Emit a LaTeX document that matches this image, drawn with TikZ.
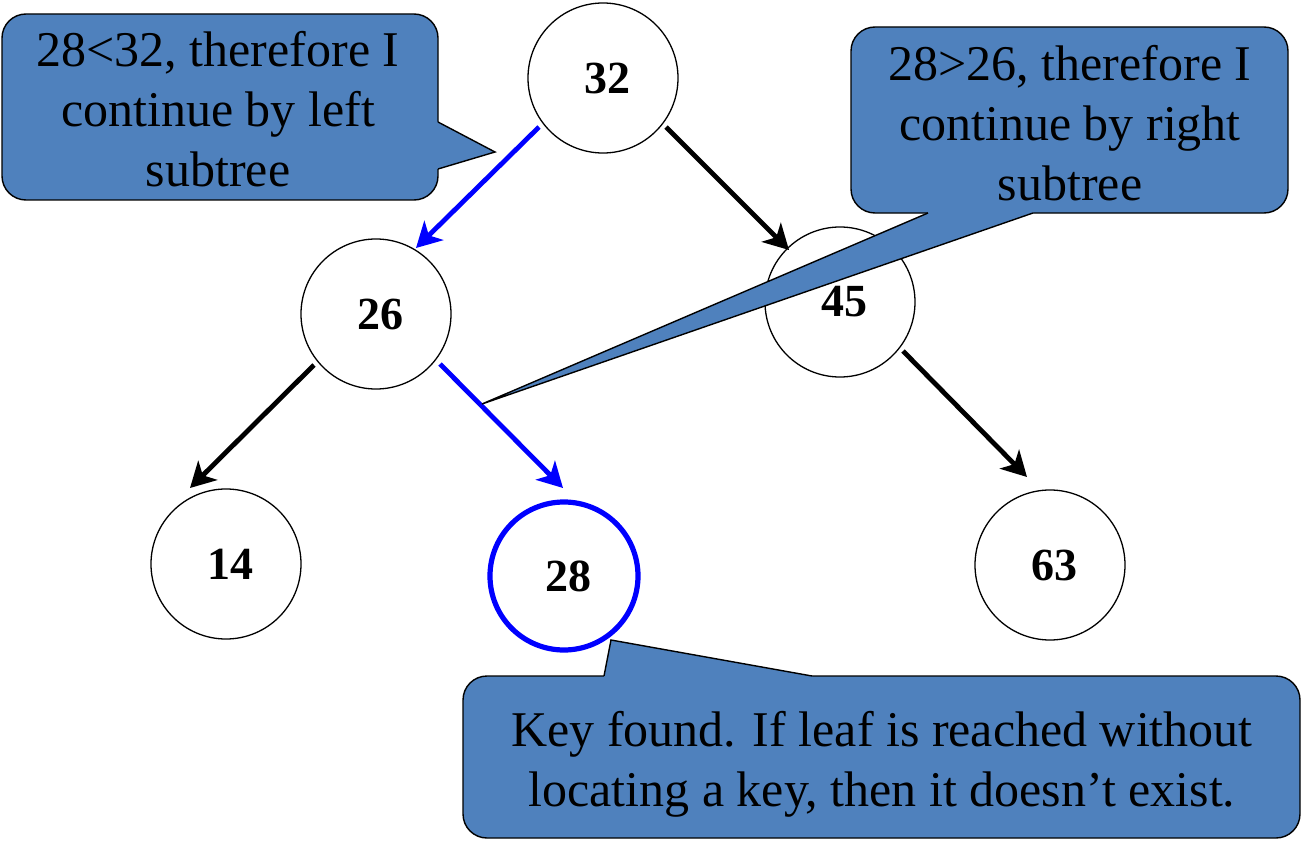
\documentclass[tikz,border=0pt]{standalone}
\usepackage{fontspec}
\setmainfont{Liberation Serif}
\usetikzlibrary{arrows.meta,calc}
\definecolor{cfill}{HTML}{4F81BD}
\definecolor{pblue}{HTML}{0000FF}
\tikzset{
  tnode/.style={circle, draw=black, line width=1.3pt, minimum size=150pt, inner sep=0pt,
    fill=white, font=\fontsize{46}{55}\selectfont\bfseries},
  found/.style={tnode, draw=pblue, line width=5.2pt, minimum size=148pt},
  treeedge/.style={line width=4.8pt, -{Stealth[length=25pt,width=27pt,inset=7pt]}},
  pathedge/.style={treeedge, draw=pblue},
  callbox/.style={rounded corners=24pt, draw=black, line width=1.4pt, fill=cfill,
    inner sep=0pt},
  calltext/.style={align=center, inner sep=0pt, font=\fontsize{50}{60}\selectfont},
  ptrfill/.style={fill=cfill},
  ptrline/.style={draw=black, line width=1.4pt, line join=miter},
}
\begin{document}
\begin{tikzpicture}[x=1pt,y=-1pt]
\useasboundingbox (0,0) rectangle (1302,848);

% tree nodes
\node[tnode] (n32) at (603,78) {\hspace{8pt}32};
\node[tnode] (n26) at (376,314) {\hspace{8pt}26};
\node[tnode] (n45) at (840,302) {\hspace{8pt}45};
\node[tnode] (n14) at (226,564) {\hspace{8pt}14};
\node[found] (n28) at (564,576) {\hspace{8pt}28};
\node[tnode] (n63) at (1050,565) {\hspace{8pt}63};

% edges
\draw[pathedge] ($(n32)+(-64,49)$) -- ($(n26)+(40,-66)$);
\draw[treeedge] ($(n32)+(63,49)$) -- ($(n45)+(-51,-52)$);
\draw[treeedge] ($(n26)+(-62,51)$) -- ($(n14)+(-36,-76)$);
\draw[pathedge] ($(n26)+(64,50)$) -- ($(n28)+(-1,-88)$);
\draw[treeedge] ($(n45)+(63,49)$) -- ($(n63)+(-23,-88)$);

% left callout
\node[callbox, minimum width=436pt, minimum height=186pt] (c1) at (220,107) {};
\coordinate (c1a) at (438,122);
\coordinate (c1b) at (438,169);
\coordinate (c1t) at (495,152);
\fill[ptrfill] ($(c1a)+(-3,0)$) -- (c1a) -- (c1t) -- (c1b) -- ($(c1b)+(-3,0)$) -- cycle;
\draw[ptrline] (c1a) -- (c1t) -- (c1b);
\node[calltext] (c1x) at (218,109) {28<32, therefore I\\continue by left\\subtree};

% right callout
\node[callbox, minimum width=437pt, minimum height=186pt] (c2) at (1069.5,120) {};
\coordinate (c2a) at (928,213);
\coordinate (c2b) at (1033,213);
\coordinate (c2t) at (482,404);
\fill[ptrfill] ($(c2a)+(0,-3)$) -- (c2a) -- (c2t) -- (c2b) -- ($(c2b)+(0,-3)$) -- cycle;
\draw[ptrline] (c2a) -- (c2t) -- (c2b);
\node[calltext] (c2x) at (1070,123) {28>26, therefore I\\continue by right\\subtree};

% bottom callout
\node[callbox, minimum width=837pt, minimum height=162pt] (c3) at (881.5,757) {};
\coordinate (c3a) at (604,676);
\coordinate (c3b) at (812,676);
\coordinate (c3t) at (611,640);
\fill[ptrfill] ($(c3a)+(0,3)$) -- (c3a) -- (c3t) -- (c3b) -- ($(c3b)+(0,3)$) -- cycle;
\draw[ptrline] (c3a) -- (c3t) -- (c3b);
\node[calltext] (c3x) at (882,764) {Key found. If leaf is reached without\\locating a key, then it doesn’t exist.};
\end{tikzpicture}
\end{document}
